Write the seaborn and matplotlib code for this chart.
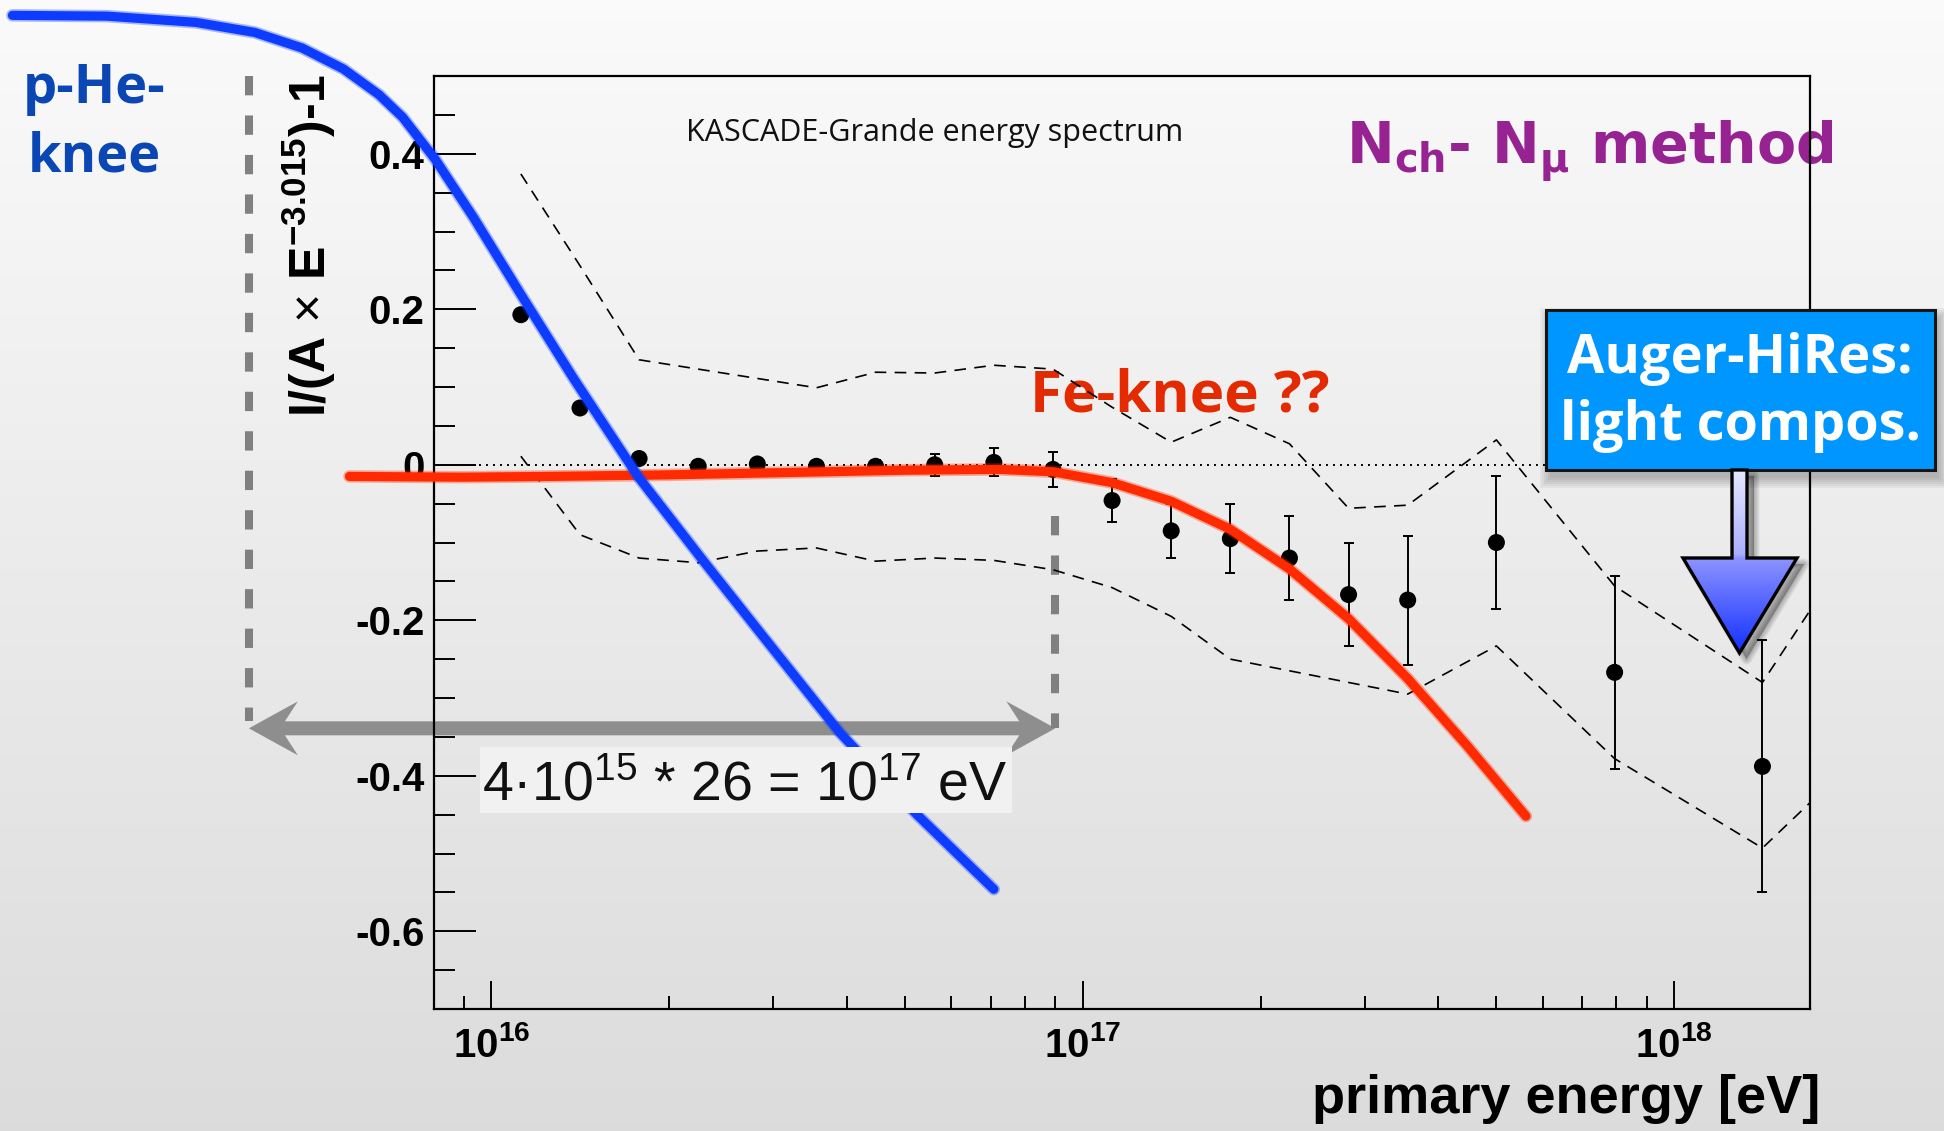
import numpy as np
import matplotlib
matplotlib.use("Agg")
import matplotlib.pyplot as plt
import seaborn as sns
from matplotlib import font_manager, patheffects
from matplotlib.patches import Polygon, Rectangle
from matplotlib.colors import LinearSegmentedColormap
from matplotlib.ticker import LogLocator, MultipleLocator, NullFormatter

# ---------------------------------------------------------------- data
# KASCADE-Grande all-particle spectrum, residuals w.r.t. a single power law
log_e_points = [16.05, 16.15, 16.25, 16.35, 16.45, 16.55, 16.65, 16.75, 16.85, 16.95,
                17.05, 17.15, 17.25, 17.35, 17.45, 17.55, 17.70, 17.90, 18.15]
ratio_points = [0.193, 0.073, 0.008, -0.002, 0.001, -0.002, -0.002, 0.000, 0.003, -0.006,
                -0.046, -0.085, -0.095, -0.120, -0.167, -0.174, -0.100, -0.267, -0.388]
ratio_errors = [0.004, 0.004, 0.004, 0.005, 0.005, 0.006, 0.008, 0.014, 0.018, 0.023,
                0.028, 0.035, 0.044, 0.054, 0.066, 0.083, 0.086, 0.124, 0.162]

# systematic band
log_e_band = [16.05, 16.15, 16.25, 16.35, 16.45, 16.55, 16.65, 16.75, 16.85, 16.95,
              17.05, 17.15, 17.25, 17.35, 17.45, 17.55, 17.70, 17.90, 18.15, 18.23]
band_upper = [0.374, 0.256, 0.135, 0.123, 0.111, 0.099, 0.119, 0.118, 0.128, 0.123,
              0.074, 0.029, 0.061, 0.027, -0.056, -0.052, 0.032, -0.156, -0.280, -0.188]
band_lower = [0.011, -0.090, -0.120, -0.126, -0.111, -0.107, -0.124, -0.120, -0.123, -0.135,
              -0.158, -0.195, -0.250, -0.265, -0.280, -0.295, -0.233, -0.378, -0.493, -0.435]

# hand-drawn knee sketches
log_e_light = [15.19, 15.35, 15.50, 15.60, 15.68, 15.75, 15.81, 15.85, 15.905, 15.97,
               16.05, 16.14, 16.25, 16.36, 16.46, 16.59, 16.72, 16.85]
ratio_light = [0.578, 0.577, 0.569, 0.556, 0.536, 0.509, 0.476, 0.447, 0.393, 0.318,
               0.219, 0.110, -0.017, -0.125, -0.221, -0.345, -0.450, -0.546]
log_e_heavy = [15.76, 15.95, 16.10, 16.30, 16.50, 16.70, 16.86, 16.95, 17.05, 17.15,
               17.25, 17.35, 17.45, 17.55, 17.65, 17.75]
ratio_heavy = [-0.015, -0.016, -0.015, -0.013, -0.010, -0.007, -0.006, -0.009, -0.023, -0.047,
               -0.083, -0.134, -0.198, -0.275, -0.361, -0.452]

zero_line_log_e = [15.98, 18.23]
zero_line_level = [0.0, 0.0]

knee_light_log_e = 15.59    # 4e15 eV proton/helium knee
knee_heavy_log_e = 16.954   # 26 x higher: iron knee
arrow_level = -0.339

y_ticks = [-0.6, -0.4, -0.2, 0.0, 0.2, 0.4]
y_tick_labels = ["-0.6", "-0.4", "-0.2", "0", "0.2", "0.4"]
x_ticks = [1e16, 1e17, 1e18]
x_tick_labels = [r"$\mathbf{10^{16}}$", r"$\mathbf{10^{17}}$", r"$\mathbf{10^{18}}$"]
x_range = (8e15, 1.7e18)
y_range = (-0.7, 0.5)

# ---------------------------------------------------------------- style
W, H, DPI = 1944, 1131, 100
sns.set_style("ticks")
entries = font_manager.fontManager.ttflist


def is_bold(weight):
    if isinstance(weight, str):
        return weight.lower() in ("bold", "heavy", "extra bold", "black", "demibold", "semibold")
    return weight >= 600


def pick(*names, bold=False):
    for n in names:
        if any(f.name == n and (not bold or is_bold(f.weight)) for f in entries):
            return n
    return "DejaVu Sans"


ROOT_FONT = pick("Liberation Sans", "Arial")
SLIDE_FONT = pick("Noto Sans", "Open Sans", "Lato", bold=True)
TITLE_FONT = pick("Open Sans", "Noto Sans")
slide_scale = 0.9 if SLIDE_FONT == "DejaVu Sans" else 1.0

plt.rcParams.update({
    "font.family": [ROOT_FONT, "DejaVu Sans"],
    "mathtext.fontset": "custom",
    "mathtext.rm": ROOT_FONT,
    "mathtext.bf": f"{ROOT_FONT}:bold",
    "mathtext.it": f"{ROOT_FONT}:italic",
    "axes.linewidth": 1.6,
})

fig = plt.figure(figsize=(W / DPI, H / DPI), dpi=DPI)

# background wash
ax_bg = fig.add_axes([0, 0, 1, 1], zorder=0)
shade = np.linspace(0.982, 0.862, 256)[:, None, None] * np.ones((1, 1, 3))
ax_bg.imshow(shade, extent=(0, W, 0, H), aspect="auto", origin="upper")
ax_bg.set_xlim(0, W)
ax_bg.set_ylim(0, H)
ax_bg.axis("off")

# overlay below the plot frame (pixel coordinates, y downward)
ax_under = fig.add_axes([0, 0, 1, 1], zorder=0.5)
ax_under.set_xlim(0, W)
ax_under.set_ylim(H, 0)
ax_under.axis("off")
ax_under.patch.set_alpha(0)

# main plot
ax = fig.add_axes([434 / W, 1 - 1009 / H, (1810 - 434) / W, (1009 - 76) / H], zorder=1)
ax.patch.set_alpha(0)
ax.set_xscale("log")
ax.set_xlim(*x_range)
ax.set_ylim(*y_range)

# overlay above the plot (pixel coordinates, y downward)
ax_top = fig.add_axes([0, 0, 1, 1], zorder=10)
ax_top.set_xlim(0, W)
ax_top.set_ylim(H, 0)
ax_top.axis("off")
ax_top.patch.set_alpha(0)


def E(v):
    return 10 ** np.asarray(v, dtype=float)


# systematic band
for band in (band_upper, band_lower):
    sns.lineplot(x=E(log_e_band), y=band, ax=ax, color="black", lw=1.2,
                 linestyle=(0, (7, 5)), estimator=None, sort=False, legend=False, zorder=2)

# reference line
sns.lineplot(x=E(zero_line_log_e), y=zero_line_level, ax=ax, color="black", lw=1.4,
             linestyle=(0, (1, 2.6)), estimator=None, sort=False, legend=False, zorder=2)

# measured points
ax.errorbar(E(log_e_points), ratio_points, yerr=ratio_errors, fmt="none", ecolor="black",
            elinewidth=1.4, capsize=3.8, capthick=1.4, zorder=3)
sns.scatterplot(x=E(log_e_points), y=ratio_points, ax=ax, s=150, color="black",
                edgecolor="none", linewidth=0, legend=False, zorder=4)

# knee sketches
for xs, ys, col, z in ((log_e_heavy, ratio_heavy, "#ff2a00", 5),
                       (log_e_light, ratio_light, "#0d3cff", 6)):
    sns.lineplot(x=E(xs), y=ys, ax=ax, color=col, lw=6.6, estimator=None, sort=False,
                 legend=False, zorder=z, clip_on=False, solid_capstyle="round",
                 solid_joinstyle="round",
                 path_effects=[patheffects.Stroke(linewidth=9.0, foreground=col, alpha=0.35),
                               patheffects.Normal()])

# axes styling
ax.set(xlabel="", ylabel="")
ax.set_xticks(x_ticks, labels=x_tick_labels)
ax.xaxis.set_minor_locator(LogLocator(base=10, subs=np.arange(2, 10)))
ax.xaxis.set_minor_formatter(NullFormatter())
ax.set_yticks(y_ticks, labels=y_tick_labels)
ax.yaxis.set_minor_locator(MultipleLocator(0.05))
ax.tick_params(axis="both", which="both", direction="in", top=False, right=False,
               colors="black", width=1.4)
ax.tick_params(axis="y", which="major", length=30, pad=7, labelsize=29)
ax.tick_params(axis="y", which="minor", length=15)
ax.tick_params(axis="x", which="major", length=20, pad=12, labelsize=29)
ax.tick_params(axis="x", which="minor", length=9.5)
for lab in ax.get_yticklabels():
    lab.set_fontweight("bold")
for sp in ax.spines.values():
    sp.set_visible(True)
    sp.set_linewidth(1.6)
    sp.set_color("black")

ax_under.text(686, 141, "KASCADE-Grande energy spectrum", fontsize=22, family=TITLE_FONT,
              color="#111111", va="baseline", ha="left")
ax_under.text(309, 246, r"I/(A $\times$ E$^{\mathbf{-3.015}}$)-1", fontsize=36,
              fontweight="bold", rotation=90, ha="center", va="center", color="black")
ax_top.text(1820, 1113, "primary energy [eV]", fontsize=39, fontweight="bold",
            ha="right", va="baseline", color="black")


# ---------------------------------------------------------------- annotations
def to_px(log_e, value):
    xd, yd = ax.transData.transform((10 ** log_e, value))
    return xd, H - yd


dash_kw = dict(color="#808080", lw=5.8, linestyle=(0, (2.4, 2.5)), dash_capstyle="butt")
x1, y1a = to_px(knee_light_log_e, y_range[1])
_, y1b = to_px(knee_light_log_e, -0.33)
ax_under.plot([x1, x1], [y1a, y1b], **dash_kw)
x2, y2a = to_px(knee_heavy_log_e, -0.066)
_, y2b = to_px(knee_heavy_log_e, arrow_level)
ax_under.plot([x2, x2], [y2a, y2b], **dash_kw)

# double arrow between the two knees
xa, ya = to_px(knee_light_log_e, arrow_level)
xb, _ = to_px(knee_heavy_log_e, arrow_level)
hl, hw, notch, sh = 49, 27, 36, 7
arrow_pts = [(xa, ya), (xa + hl, ya - hw), (xa + notch, ya - sh), (xb - notch, ya - sh),
             (xb - hl, ya - hw), (xb, ya), (xb - hl, ya + hw), (xb - notch, ya + sh),
             (xa + notch, ya + sh), (xa + hl, ya + hw)]
ax_under.add_patch(Polygon(arrow_pts, closed=True, facecolor="#8e8e8e", edgecolor="none"))

slide_kw = dict(fontweight="bold", family=SLIDE_FONT, va="baseline")
ax_under.text(1030, 411.7, "Fe-knee ??", fontsize=42 * slide_scale, color="#e32a00",
              ha="left", **slide_kw)
ax_under.text(94, 103, "p-He-", fontsize=39 * slide_scale, color="#0a46b4", ha="center",
              **slide_kw)
ax_under.text(94.5, 172, "knee", fontsize=39 * slide_scale, color="#0a46b4", ha="center",
              **slide_kw)
ax_under.text(1346, 163.3, r"N$_{\mathbf{ch}}$- N$_{\mathbf{\mu}}$ method", fontsize=41,
              fontweight="bold", family="DejaVu Sans", math_fontfamily="dejavusans",
              color="#962391", va="baseline", ha="left")

# energy relation label
ax_top.add_patch(Rectangle((480, 747), 532, 66, facecolor="#f1f1f1", edgecolor="none"))
ax_top.text(482, 800, r"4·10$^{15}$ * 26 = 10$^{17}$ eV", fontsize=40, color="#111111",
            va="baseline", ha="left")

# Auger-HiRes call-out
bx0, by0, bw, bh = 1546, 310, 389, 160
for k in range(6):
    g = 2 * k
    ax_top.add_patch(Rectangle((bx0 + 4 - g, by0 + 8 - g), bw + 2 * g, bh + 2 * g,
                               facecolor="black", edgecolor="none", alpha=0.045))
ax_top.add_patch(Rectangle((bx0, by0), bw, bh, facecolor="#0096ff", edgecolor="#151515", lw=2.2))
ax_top.text(1740, 372.7, "Auger-HiRes:", fontsize=39 * slide_scale, color="white",
            ha="center", **slide_kw)
ax_top.text(1740, 440, "light compos.", fontsize=39 * slide_scale, color="white",
            ha="center", **slide_kw)

down_pts = [(1732, by0 + bh), (1747, by0 + bh), (1747, 558), (1797, 558), (1739.5, 653),
            (1683, 558), (1732, 558)]
for k in range(6):
    off = np.array([7.0, 6.0])
    ax_top.add_patch(Polygon(np.array(down_pts) + off, closed=True, facecolor="black",
                             edgecolor="black", lw=1.5 * k + 0.5, alpha=0.05,
                             joinstyle="round"))
arrow_body = Polygon(down_pts, closed=True, facecolor="none", edgecolor="none")
ax_top.add_patch(arrow_body)
arrow_cmap = LinearSegmentedColormap.from_list(
    "callout", [(0.0, "#e6e8ff"), (0.46, "#a9afff"), (0.48, "#8e94ff"), (1.0, "#1230ff")])
grad = ax_top.imshow(np.linspace(0, 1, 256)[:, None], cmap=arrow_cmap, aspect="auto",
                     extent=(1683, 1797, 653, by0 + bh), origin="upper", zorder=2)
grad.set_clip_path(arrow_body)
ax_top.add_patch(Polygon(down_pts, closed=True, facecolor="none", edgecolor="black",
                         lw=2.4, joinstyle="miter", zorder=3))
ax_top.set_xlim(0, W)
ax_top.set_ylim(H, 0)

fig.savefig("out.png", dpi=DPI)
